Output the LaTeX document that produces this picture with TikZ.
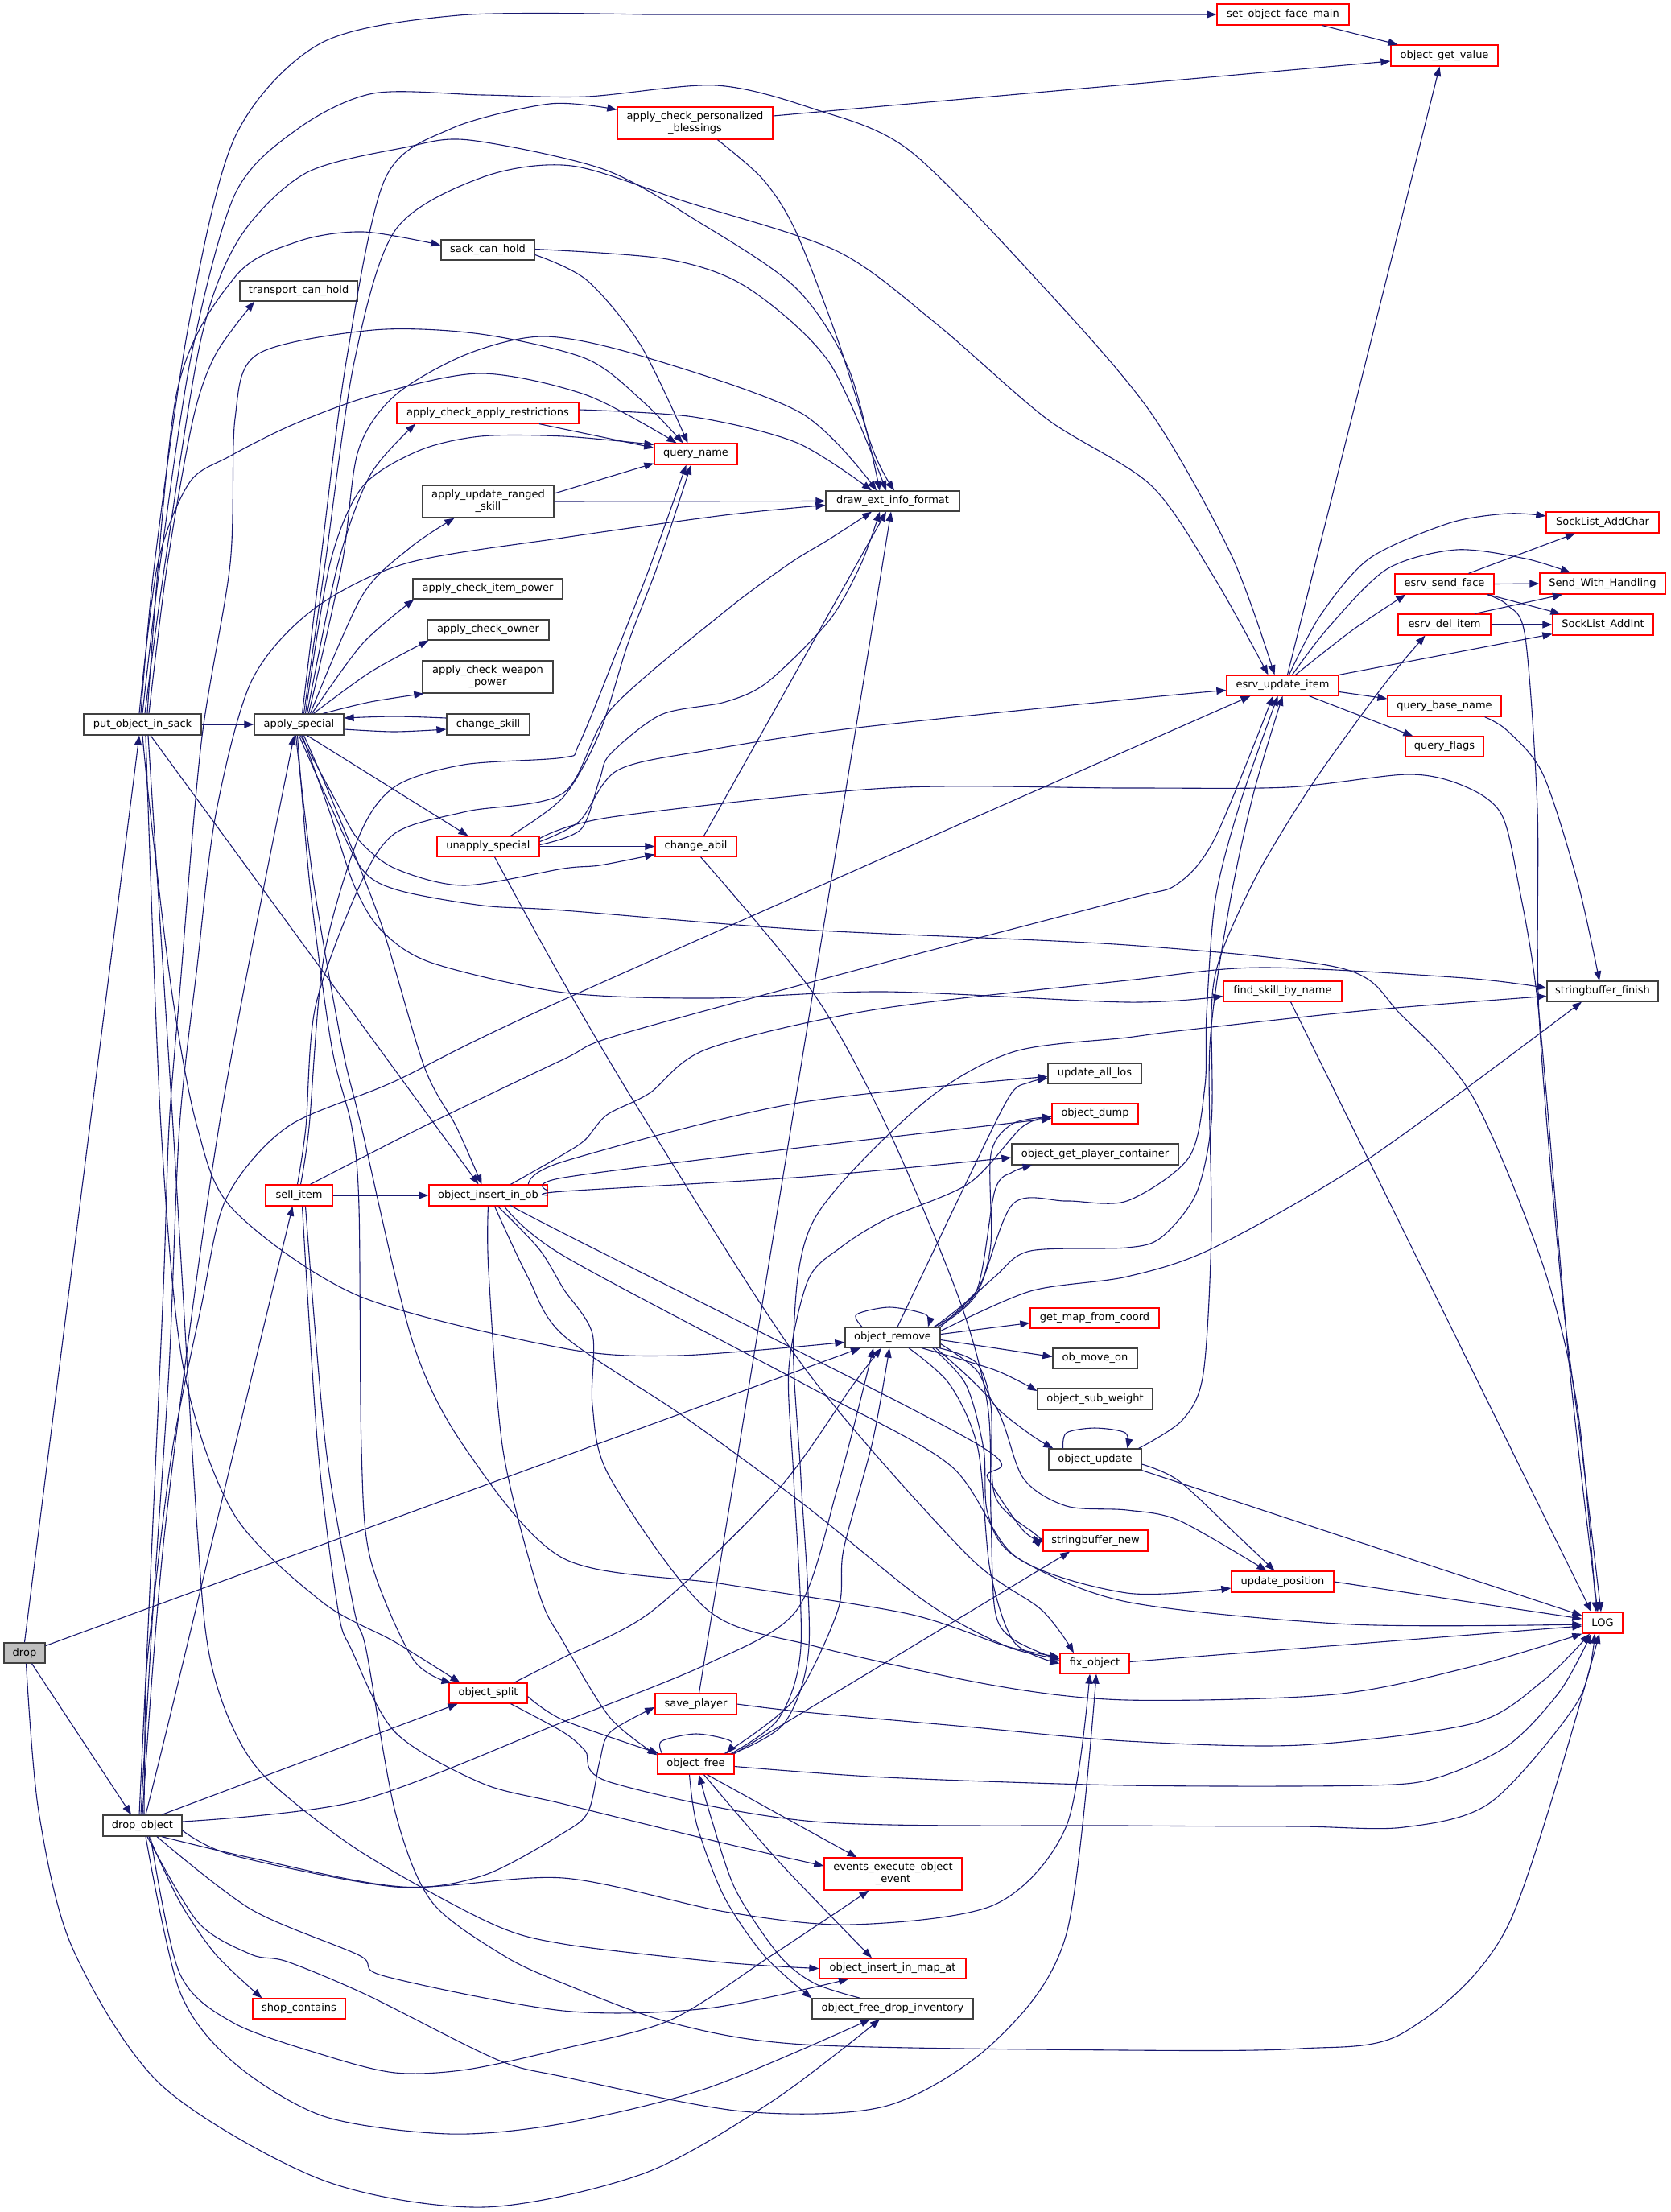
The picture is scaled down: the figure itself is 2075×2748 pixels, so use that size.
\documentclass[tikz,border=0pt]{standalone}
\usepackage{fontspec}
\setmainfont{DejaVu Sans}
\usetikzlibrary{arrows.meta}
\definecolor{edgec}{RGB}{25,25,112}
\definecolor{nodeb}{RGB}{64,64,64}
\definecolor{nodered}{RGB}{255,0,0}
\definecolor{rootfill}{RGB}{191,191,191}
\begin{document}
\begin{tikzpicture}[x=1pt,y=-1pt,
 fn/.style={draw=nodeb, fill=white, line width=1.3pt, inner sep=0pt, align=center, font=\fontsize{13}{15}\selectfont},
 rn/.style={fn, draw=nodered},
 e/.style={draw=edgec, line width=1.1pt, -{Triangle[length=12pt,width=9pt]}},
]
\useasboundingbox (0,0) rectangle (2075,2748);
\fill[white] (0,0) rectangle (2075,2748);

% nodes
\node[fn, fill=rootfill, minimum width=51pt, minimum height=25pt] (drop) at (30.5,2053.5) {drop};
\node[fn, minimum width=146pt, minimum height=26pt] (pois) at (177,900) {put\_object\_in\_sack};
\node[fn, minimum width=111pt, minimum height=26pt] (aps) at (371.5,900) {apply\_special};
\node[fn, minimum width=103pt, minimum height=26pt] (chs) at (606.5,900) {change\_skill};
\node[fn, minimum width=146pt, minimum height=25pt] (tch) at (371,361.5) {transport\_can\_hold};
\node[fn, minimum width=116pt, minimum height=25pt] (sch) at (606,310.5) {sack\_can\_hold};
\node[rn, minimum width=193pt, minimum height=40pt] (acpb) at (863.5,153) {apply\_check\_personalized\\\_blessings};
\node[rn, minimum width=164pt, minimum height=26pt] (sofm) at (1594,18) {set\_object\_face\_main};
\node[rn, minimum width=133pt, minimum height=26pt] (ogv) at (1794.5,69) {object\_get\_value};
\node[rn, minimum width=226pt, minimum height=26pt] (acar) at (606,513) {apply\_check\_apply\_restrictions};
\node[rn, minimum width=103pt, minimum height=26pt] (qn) at (864.5,564) {query\_name};
\node[fn, minimum width=163pt, minimum height=40pt] (aurs) at (606.5,623) {apply\_update\_ranged\\\_skill};
\node[fn, minimum width=166pt, minimum height=25pt] (deif) at (1109,622.5) {draw\_ext\_info\_format};
\node[fn, minimum width=186pt, minimum height=25pt] (acip) at (606,731.5) {apply\_check\_item\_power};
\node[fn, minimum width=151pt, minimum height=25pt] (aco) at (606.5,782.5) {apply\_check\_owner};
\node[fn, minimum width=162pt, minimum height=40pt] (acwp) at (606,841) {apply\_check\_weapon\\\_power};
\node[rn, minimum width=127pt, minimum height=25pt] (uns) at (606.5,1051.5) {unapply\_special};
\node[rn, minimum width=101pt, minimum height=25pt] (cha) at (864.5,1051.5) {change\_abil};
\node[rn, minimum width=139pt, minimum height=25pt] (eui) at (1593.5,851.5) {esrv\_update\_item};
\node[rn, minimum width=123pt, minimum height=25pt] (esf) at (1794.5,725.5) {esrv\_send\_face};
\node[rn, minimum width=115pt, minimum height=26pt] (edi) at (1794.5,776) {esrv\_del\_item};
\node[rn, minimum width=141pt, minimum height=26pt] (qbn) at (1794.5,877) {query\_base\_name};
\node[rn, minimum width=97pt, minimum height=25pt] (qf) at (1794.5,927.5) {query\_flags};
\node[rn, minimum width=140pt, minimum height=26pt] (sac) at (1991,649) {SockList\_AddChar};
\node[rn, minimum width=156pt, minimum height=26pt] (swh) at (1991,725) {Send\_With\_Handling};
\node[rn, minimum width=125pt, minimum height=26pt] (sai) at (1991.5,776) {SockList\_AddInt};
\node[rn, minimum width=147pt, minimum height=25pt] (fsbn) at (1593.5,1231.5) {find\_skill\_by\_name};
\node[fn, minimum width=138pt, minimum height=25pt] (sbf) at (1991,1231.5) {stringbuffer\_finish};
\node[fn, minimum width=116pt, minimum height=25pt] (ual) at (1360,1333.5) {update\_all\_los};
\node[rn, minimum width=107pt, minimum height=25pt] (od) at (1360.5,1383.5) {object\_dump};
\node[fn, minimum width=207pt, minimum height=26pt] (ogpc) at (1360.5,1434) {object\_get\_player\_container};
\node[rn, minimum width=83pt, minimum height=26pt] (si) at (371.5,1485) {sell\_item};
\node[rn, minimum width=147pt, minimum height=26pt] (oiio) at (606.5,1485) {object\_insert\_in\_ob};
\node[fn, minimum width=118pt, minimum height=25pt] (orm) at (1109,1661.5) {object\_remove};
\node[rn, minimum width=160pt, minimum height=25pt] (gmfc) at (1360,1637.5) {get\_map\_from\_coord};
\node[fn, minimum width=105pt, minimum height=25pt] (omo) at (1360.5,1687.5) {ob\_move\_on};
\node[fn, minimum width=143pt, minimum height=26pt] (osw) at (1360.5,1738) {object\_sub\_weight};
\node[fn, minimum width=115pt, minimum height=26pt] (ou) at (1360.5,1813) {object\_update};
\node[rn, minimum width=130pt, minimum height=26pt] (sbn) at (1361,1914) {stringbuffer\_new};
\node[rn, minimum width=127pt, minimum height=26pt] (up) at (1593.5,1965) {update\_position};
\node[rn, minimum width=50pt, minimum height=26pt] (log) at (1991,2016) {LOG};
\node[rn, minimum width=86pt, minimum height=25pt] (fo) at (1360,2066.5) {fix\_object};
\node[rn, minimum width=97pt, minimum height=25pt] (osp) at (606.5,2103.5) {object\_split};
\node[rn, minimum width=101pt, minimum height=26pt] (sp) at (864.5,2117) {save\_player};
\node[rn, minimum width=95pt, minimum height=25pt] (ofr) at (864.5,2191.5) {object\_free};
\node[fn, minimum width=98pt, minimum height=26pt] (dob) at (177,2268) {drop\_object};
\node[rn, minimum width=171pt, minimum height=40pt] (eeoe) at (1109.5,2328) {events\_execute\_object\\\_event};
\node[rn, minimum width=182pt, minimum height=25pt] (oiima) at (1109,2445.5) {object\_insert\_in\_map\_at};
\node[fn, minimum width=200pt, minimum height=25pt] (ofdi) at (1109,2495.5) {object\_free\_drop\_inventory};
\node[rn, minimum width=115pt, minimum height=25pt] (shc) at (371.5,2495.5) {shop\_contains};

% drop
\draw[e] (drop.north) -- ([xshift=-4pt]pois.south);
\draw[e] ([yshift=9pt]drop.east) -- ([xshift=-40pt]orm.south);
\draw[e] ([xshift=9pt]drop.south) -- ([xshift=-14pt]dob.north);
\draw[e] plot[smooth] coordinates {([xshift=2pt]drop.south) (48,2250) (90,2420) (200,2590) (400,2708) (600,2742) (800,2700) (960,2610) ([xshift=-16pt]ofdi.south)};

% put_object_in_sack
\draw[e] (pois.east) -- (aps.west);
\draw[e] plot[smooth] coordinates {([xshift=-2pt]pois.north) (192,700) (235,400) (292,170) (398,54) (570,19) (800,18)} -- (sofm.west);
\draw[e] plot[smooth] coordinates {(pois.north) (199,700) (238,440) (292,241) (370,160) (464,116) (600,118) (729,120) (889,106) (1010,135) (1130,187) (1297,357) (1430,513) (1530,690) ([xshift=-10pt]eui.north)};
\draw[e] plot[smooth] coordinates {([xshift=3pt]pois.north) (205,700) (250,420) (298,295) (380,215) (504,183) (583,174) (749,210) (862,272) (988,357) (1055,460) ([xshift=-16pt]deif.north)};
\draw[e] plot[smooth] coordinates {([xshift=6pt]pois.north) (219,491) (292,344) (370,300) (451,288) ([yshift=6pt]sch.west)};
\draw[e] plot[smooth] coordinates {([xshift=8pt]pois.north) (208,700) (240,520) (268,440) ([xshift=-55pt]tch.south)};
\draw[e] plot[smooth] coordinates {([xshift=-4pt]pois.north) (196,700) (235,600) (285,567) (365,527) (464,491) (597,464) (729,491) ([xshift=-24pt]qn.north)};
\draw[e] ([xshift=10pt]pois.south) -- ([xshift=-12pt]oiio.north);
\draw[e] plot[smooth] coordinates {(pois.south) (187,1012) (214,1236) (245,1400) (290,1503) (446,1610) (700,1675) (843,1684) ([yshift=-6pt]orm.west)};
\draw[e] plot[smooth] coordinates {([xshift=4pt]pois.south) (200,1400) (228,1700) (290,1880) (400,1990) (491,2040) ([xshift=-35pt]osp.north)};
\draw[e] plot[smooth] coordinates {([xshift=7pt]pois.south) (215,1400) (245,1900) (259,2050) (286,2139) (330,2208) (446,2299) (607,2388) (700,2415) (900,2438) (oiima.west)};

% apply_special
\draw[e] plot[smooth] coordinates {([xshift=4pt]aps.north) (398,700) (430,450) (478,223) (560,160) (683,129) ([yshift=-4pt]acpb.north west)};
\draw[e] plot[smooth] coordinates {([xshift=6pt]aps.north) (404,700) (440,450) (491,286) (600,220) (710,206) (850,250) (1040,312) (1163,402) (1300,520) (1430,603) (1510,720) ([xshift=-18pt]eui.north)};
\draw[e] plot[smooth] coordinates {([xshift=10pt]aps.north) (420,700) (460,590) ([xshift=-90pt]acar.south)};
\draw[e] plot[smooth] coordinates {([xshift=8pt]aps.north) (410,700) (450,605) (520,560) (597,542) (700,542) ([yshift=-2pt]qn.north west)};
\draw[e] plot[smooth] coordinates {([xshift=12pt]aps.north) (425,700) (445,560) (491,491) (580,440) (676,418) (796,442) (995,513) ([xshift=-20pt]deif.north)};
\draw[e] plot[smooth] coordinates {([xshift=14pt]aps.north) (450,740) (510,680) ([xshift=-42pt]aurs.south)};
\draw[e] plot[smooth] coordinates {([xshift=16pt]aps.north) (450,800) ([xshift=2pt]acip.south west)};
\draw[e] plot[smooth] coordinates {([xshift=18pt]aps.north) (460,835) ([xshift=2pt]aco.south west)};
\draw[e] plot[smooth] coordinates {([xshift=30pt]aps.north) (460,872) ([xshift=2pt]acwp.south west)};
\draw[e] plot[smooth] coordinates {([yshift=8pt]chs.west) (490,890) ([yshift=8pt]aps.east)};
\draw[e] plot[smooth] coordinates {([yshift=-6pt]aps.east) (490,909) ([yshift=-6pt]chs.west)};
\draw[e] ([xshift=10pt]aps.south) -- ([xshift=-25pt]uns.north);
\draw[e] plot[smooth] coordinates {([xshift=2pt]aps.south) (420,1000) (446,1044) (491,1079) (576,1100) (700,1079) (745,1075) ([yshift=-10pt]cha.west)};
\draw[e] plot[smooth] coordinates {(aps.south) (410,1000) (450,1080) (495,1106) (600,1125) (700,1131) (1000,1155) (1400,1174) (1667,1203) (1740,1260) (1830,1363) (1917,1572) (1960,1751) ([xshift=-8pt]log.north)};
\draw[e] plot[smooth] coordinates {([xshift=4pt]aps.south) (410,1010) (440,1100) (473,1155) (536,1196) (700,1233) (880,1240) (1100,1232) (1400,1245) ([yshift=-6pt]fsbn.west)};
\draw[e] plot[smooth] coordinates {([xshift=6pt]aps.south) (415,1000) (473,1146) (527,1325) (567,1400) ([xshift=-8pt]oiio.north)};
\draw[e] plot[smooth] coordinates {([xshift=-2pt]aps.south) (385,1100) (412,1300) (437,1400) (446,1500) (449,1800) (460,1936) (513,2061) ([xshift=-46pt]osp.north)};
\draw[e] plot[smooth] coordinates {([xshift=-4pt]aps.south) (390,1100) (425,1300) (449,1400) (513,1668) (580,1802) (700,1936) (900,1968) (1129,2005) (1250,2045) ([yshift=8pt]fo.west)};

% drop_object
\draw[e] plot[smooth] coordinates {(dob.north) (205,1900) (272,1400) ([xshift=-6pt]aps.south)};
\draw[e] plot[smooth] coordinates {([xshift=4pt]dob.north) (219,2100) ([xshift=-8pt]si.south)};
\draw[e] plot[smooth] coordinates {([xshift=-2pt]dob.north) (190,2000) (210,1700) (223,1400) (245,1200) (268,1012) (312,847) (388,758) (504,700) (700,668) (900,640) ([yshift=-5pt]deif.west)};
\draw[e] plot[smooth] coordinates {([xshift=-4pt]dob.north) (185,2000) (203,1600) (210,1400) (223,1236) (250,923) (286,700) (292,520) (320,440) (464,410) (597,415) (729,446) (800,500) ([xshift=-16pt]qn.north)};
\draw[e] plot[smooth] coordinates {([xshift=2pt]dob.north) (181,2100) (187,2025) (214,1802) (250,1623) (281,1489) (357,1400) (491,1343) (700,1242) ([xshift=-40pt]eui.south)};
\draw[e] ([xshift=24pt]dob.north) -- ([xshift=-38pt]osp.south);
\draw[e] plot[smooth] coordinates {([yshift=5pt]dob.east) (446,2237) (700,2139) (879,2067) (990,2000) (1040,1850) ([xshift=-24pt]orm.south)};
\draw[e] plot[smooth] coordinates {([yshift=-6pt]dob.east) (290,2305) (491,2344) (600,2330) (700,2277) (731,2250) (745,2188) (758,2152) ([yshift=-4pt]sp.west)};
\draw[e] plot[smooth] coordinates {([xshift=24pt]dob.south) (312,2308) (500,2344) (700,2333) (901,2375) (1057,2391) (1236,2366) (1325,2268) ([xshift=-6pt]fo.south)};
\draw[e] plot[smooth] coordinates {([xshift=6pt]dob.south) (246,2388) (312,2428) (357,2437) (455,2478) (616,2558) (700,2580) (923,2623) (1102,2616) (1236,2536) (1325,2402) ([xshift=2pt]fo.south)};
\draw[e] plot[smooth] coordinates {([xshift=18pt]dob.south) (312,2372) (446,2429) (478,2455) (700,2498) (879,2495) ([xshift=-55pt]oiima.south)};
\draw[e] plot[smooth] coordinates {([xshift=10pt]dob.south) (223,2451) (290,2513) (402,2553) (491,2575) (580,2571) (700,2545) (834,2509) (959,2429) ([xshift=-30pt]eeoe.south)};
\draw[e] plot[smooth] coordinates {([xshift=8pt]dob.south) (223,2362) (268,2428) ([xshift=-46pt]shc.north)};
\draw[e] plot[smooth] coordinates {([xshift=4pt]dob.south) (223,2473) (290,2562) (402,2629) (558,2651) (700,2638) (879,2594) ([xshift=-28pt]ofdi.south)};

% sell_item
\draw[e] (si.east) -- (oiio.west);
\draw[e] plot[smooth] coordinates {([xshift=2pt]si.north) (384,1400) (402,1191) (446,1039) (491,977) (576,950) (700,941) (720,923) (770,800) (809,700) ([xshift=-12pt]qn.south)};
\draw[e] plot[smooth] coordinates {([xshift=-2pt]si.north) (380,1400) (392,1250) (446,1102) (491,1035) (580,1008) (700,985) (760,880) (900,760) (981,700) (1030,670) ([xshift=-26pt]deif.south)};
\draw[e] plot[smooth] coordinates {([xshift=14pt]si.north) (525,1400) (700,1316) (771,1285) (1102,1195) (1400,1117) (1463,1098) (1510,1040) ([xshift=-12pt]eui.south)};
\draw[e] plot[smooth] coordinates {([xshift=4pt]si.south) (395,1800) (420,2000) (437,2050) (491,2152) (598,2215) (700,2241) (900,2290) ([yshift=10pt]eeoe.west)};
\draw[e] plot[smooth] coordinates {([xshift=8pt]si.south) (405,1800) (440,2000) (455,2050) (491,2251) (536,2362) (625,2429) (700,2464) (834,2513) (1000,2540) (1400,2547) (1615,2545) (1744,2525) (1874,2391) ([xshift=-4pt]log.south)};

% unapply_special
\draw[e] plot[smooth] coordinates {([xshift=28pt]uns.north) (700,990) (745,910) (780,800) (818,700) ([xshift=-6pt]qn.south)};
\draw[e] plot[smooth] coordinates {([yshift=2pt]uns.east) (722,1030) (745,968) (758,937) (821,888) (901,872) (954,847) (1030,771) (1070,700) ([xshift=-16pt]deif.south)};
\draw[e] plot[smooth] coordinates {([yshift=6pt]uns.east) (720,1020) (767,957) (879,932) (1057,905) (1400,869) ([yshift=-6pt]eui.west)};
\draw[e] (uns.east) -- (cha.west);
\draw[e] plot[smooth] coordinates {([yshift=10pt]uns.east) (760,1015) (1102,979) (1400,979) (1600,978) (1750,962) (1820,977) (1865,1011) (1886,1096) (1912,1260) (1950,1700) ([xshift=-6pt]log.north)};
\draw[e] plot[smooth] coordinates {([xshift=8pt]uns.south) (700,1220) (807,1400) (1000,1700) (1200,1930) (1294,2000) ([xshift=-26pt]fo.north)};

% change_abil
\draw[e] ([xshift=10pt]cha.north) -- ([xshift=-8pt]deif.south);
\draw[e] plot[smooth] coordinates {([xshift=6pt]cha.south) (1012,1236) (1102,1400) (1191,1612) (1227,1746) (1231,1880) (1236,2000) (1258,2036) ([yshift=4pt]fo.west)};

% save_player
\draw[e] ([xshift=4pt]sp.north) -- ([xshift=-2pt]deif.south);
\draw[e] plot[smooth] coordinates {(sp.east) (1000,2127) (1200,2145) (1400,2163) (1615,2168) (1830,2141) (1917,2088) ([xshift=-16pt]log.south)};

% object_split
\draw[e] plot[smooth] coordinates {([xshift=32pt]osp.north) (700,2059) (812,2000) (968,1849) (1060,1720) ([xshift=-14pt]orm.south)};
\draw[e] plot[smooth] coordinates {([yshift=-4pt]osp.east) (700,2137) ([xshift=2pt]ofr.north west)};
\draw[e] plot[smooth] coordinates {([xshift=28pt]osp.south) (700,2152) (727,2175) (758,2214) (1012,2263) (1400,2268) (1615,2269) (1744,2270) (1852,2239) (1960,2114) ([xshift=-10pt]log.south)};

% object_free
\draw[e] plot[smooth] coordinates {([xshift=-42pt]ofr.north) (822,2163) (865,2154) (908,2163) ([xshift=38pt]ofr.north)};
\draw[e] plot[smooth] coordinates {([xshift=36pt]ofr.north) (986,2112) (1041,2000) (1048,1925) (1084,1791) ([xshift=-4pt]orm.south)};
\draw[e] plot[smooth] coordinates {([xshift=44pt]ofr.north) (968,2134) (995,2045) (986,1836) (980,1700) (1004,1590) (1044,1550) (1102,1514) (1204,1470) (1270,1400) ([yshift=-4pt]od.west)};
\draw[e] plot[smooth] coordinates {([xshift=46pt]ofr.north) (975,2140) (1005,2045) (995,1836) (986,1657) (1012,1514) (1146,1371) (1258,1307) (1400,1289) (1470,1280) (1700,1255) ([yshift=-6pt]sbf.west)};
\draw[e] (ofr.north east) -- ([xshift=-32pt]sbn.south);
\draw[e] plot[smooth] coordinates {([yshift=-3pt]ofr.east) (1100,2208) (1400,2218) (1701,2218) (1787,2208) (1874,2168) (1938,2101) ([xshift=-14pt]log.south)};
\draw[e] ([xshift=14pt]ofr.south) -- ([xshift=-45pt]eeoe.north);
\draw[e] plot[smooth] coordinates {([xshift=10pt]ofr.south) (968,2313) ([xshift=-26pt]oiima.north)};
\draw[e] plot[smooth] coordinates {([xshift=-8pt]ofr.south) (866,2268) (900,2357) (950,2430) (ofdi.north west)};
\draw[e] plot[smooth] coordinates {([xshift=-40pt]ofdi.north) (1012,2464) (968,2429) (914,2348) (884,2260) ([xshift=4pt]ofr.south)};

% object_insert_in_ob
\draw[e] plot[smooth] coordinates {([xshift=50pt]oiio.north) (700,1443) (986,1371) ([yshift=-4pt]ual.west)};
\draw[e] plot[smooth] coordinates {([yshift=6pt]oiio.east) (700,1463) (1000,1425) ([yshift=-6pt]od.west)};
\draw[e] plot[smooth] coordinates {(oiio.east) (700,1480) (1000,1462) ([yshift=-4pt]ogpc.west)};
\draw[e] plot[smooth] coordinates {([xshift=28pt]oiio.north) (700,1434) (727,1416) (754,1385) (807,1358) (879,1303) (1088,1254) (1400,1218) (1567,1202) (1820,1215) ([yshift=4pt]sbf.west)};
\draw[e] plot[smooth] coordinates {(oiio.south) (607,1579) (625,1802) (670,1980) (700,2040) (758,2134) ([yshift=-2pt]ofr.north west)};
\draw[e] plot[smooth] coordinates {([xshift=12pt]oiio.south) (670,1552) (700,1601) (736,1657) (736,1746) (758,1836) (879,2000) (1012,2045) (1236,2094) (1400,2112) (1658,2105) (1830,2070) (log.south west)};
\draw[e] plot[smooth] coordinates {([xshift=8pt]oiio.south) (656,1587) (700,1659) (850,1760) (1000,1870) (1150,1990) (1250,2045) ([yshift=6pt]fo.west)};
\draw[e] plot[smooth] coordinates {([xshift=30pt]oiio.south) (700,1532) (1209,1791) (1227,1836) (1270,1900) ([yshift=-2pt]sbn.west)};
\draw[e] plot[smooth] coordinates {([xshift=20pt]oiio.south) (700,1560) (1000,1720) (1180,1820) (1262,1934) (1400,1979) ([yshift=-8pt]up.west)};

% object_remove
\draw[e] plot[smooth] coordinates {([xshift=-38pt]orm.north) (1064,1633) (1105,1624) (1150,1633) ([xshift=44pt]orm.north)};
\draw[e] plot[smooth] coordinates {([xshift=6pt]orm.north) (1200,1470) (1254,1362) (1278,1345) ([yshift=-6pt]ual.west)};
\draw[e] plot[smooth] coordinates {([xshift=-8pt]orm.north east) (1213,1604) (1231,1545) (1231,1434) (1258,1396) ([yshift=-4pt]od.west)};
\draw[e] plot[smooth] coordinates {([xshift=-8pt]orm.north east) (1213,1604) (1236,1479) (1258,1456) ([xshift=-78pt]ogpc.south)};
\draw[e] plot[smooth] coordinates {([xshift=-4pt]orm.north east) (1213,1608) (1258,1496) (1325,1492) (1400,1492) (1477,1438) (1497,1349) (1499,1260) (1510,1117) (1540,1000) ([xshift=-6pt]eui.south)};
\draw[e] plot[smooth] coordinates {(orm.north east) (1236,1586) (1280,1554) (1400,1550) (1443,1537) (1486,1483) (1505,1394) (1505,1260) (1510,1210) (1527,1160) (1567,1077) (1633,970) (1720,850) ([xshift=-24pt]edi.south)};
\draw[e] plot[smooth] coordinates {([yshift=8pt]orm.east) (1280,1604) (1400,1586) (1508,1550) (1701,1439) ([xshift=-26pt]sbf.south)};
\draw[e] ([yshift=4pt]orm.east) -- ([yshift=-6pt]gmfc.west);
\draw[e] ([yshift=-3pt]orm.east) -- ([yshift=2pt]omo.west);
\draw[e] plot[smooth] coordinates {([xshift=36pt]orm.south) (1236,1702) ([yshift=10pt]osw.west)};
\draw[e] plot[smooth] coordinates {([yshift=-8pt]orm.east) (1213,1702) (1236,1746) (1280,1782) ([xshift=6pt]ou.north west)};
\draw[e] plot[smooth] coordinates {([xshift=-2pt]orm.south east) (1213,1693) (1231,1746) (1236,1858) (1285,1905) ([yshift=4pt]sbn.west)};
\draw[e] plot[smooth] coordinates {([xshift=-6pt]orm.south east) (1236,1746) (1271,1836) (1325,1871) (1400,1876) (1465,1889) ([xshift=-20pt]up.north)};
\draw[e] plot[smooth] coordinates {([xshift=-10pt]orm.south east) (1200,1720) (1222,1800) (1227,1880) (1262,1934) (1400,1990) (1680,2018) ([yshift=-2pt]log.west)};
\draw[e] plot[smooth] coordinates {([xshift=20pt]orm.south) (1180,1720) (1215,1800) (1230,1950) (1260,2040) (fo.west)};

% object_update
\draw[e] plot[smooth] coordinates {([xshift=-40pt]ou.north) (1325,1780) (1360,1774) (1398,1780) ([xshift=40pt]ou.north)};
\draw[e] plot[smooth] coordinates {([xshift=-4pt]ou.north east) (1469,1764) (1495,1706) (1505,1528) (1503,1300) (1527,1127) (1557,987) (eui.south)};
\draw[e] plot[smooth] coordinates {([yshift=-6pt]ou.east) (1465,1840) (1540,1910) ([xshift=-10pt]up.north)};
\draw[e] (ou.south east) -- ([yshift=9pt]log.west);

% misc right side
\draw[e] (up.east) -- ([yshift=5pt]log.west);
\draw[e] ([yshift=2pt]fo.east) -- ([yshift=-4pt]log.west);
\draw[e] ([xshift=10pt]fsbn.south) -- ([xshift=-14pt]log.north);
\draw[e] plot[smooth] coordinates {([xshift=53pt]esf.south) (1873,752) (1895,792) (1910,1006) (1912,1260) (1940,1600) (1965,1800) ([xshift=-2pt]log.north)};
\draw[e] plot[smooth] coordinates {([xshift=50pt]qbn.south) (1873,908) (1917,962) (1960,1096) ([xshift=-4pt]sbf.north)};
\draw[e] ([xshift=49pt]sofm.south) -- ([xshift=-58pt]ogv.north);
\draw[e] ([yshift=9pt]acpb.east) -- ([yshift=-7pt]ogv.west);
\draw[e] ([xshift=6pt]eui.north) -- ([xshift=-6pt]ogv.south);
\draw[e] plot[smooth] coordinates {([xshift=28pt]acpb.south) (948,223) (988,286) (1040,420) (1085,560) ([xshift=2pt]deif.north)};
\draw[e] plot[smooth] coordinates {([yshift=-6pt]sch.east) (729,348) (796,429) ([xshift=-10pt]qn.north)};
\draw[e] plot[smooth] coordinates {([yshift=1pt]sch.east) (829,322) (928,357) (1030,450) ([xshift=-8pt]deif.north)};
\draw[e] ([xshift=64pt]acar.south) -- ([yshift=-6pt]qn.north west);
\draw[e] plot[smooth] coordinates {([yshift=4pt]acar.east) (862,518) (990,550) ([xshift=-26pt]deif.north)};
\draw[e] ([yshift=10pt]aurs.east) -- ([yshift=2pt]qn.south west);
\draw[e] (aurs.east) -- (deif.west);
\draw[e] plot[smooth] coordinates {([xshift=8pt]eui.north) (1640,765) (1701,694) (1800,650) (1873,638) ([yshift=8pt]sac.west)};
\draw[e] plot[smooth] coordinates {([xshift=12pt]eui.north) (1650,780) (1723,707) (1809,683) (1895,694) ([xshift=-40pt]swh.north)};
\draw[e] plot[smooth] coordinates {([xshift=16pt]eui.north) (1680,783) ([xshift=14pt]esf.south west)};
\draw[e] (eui.north east) -- ([yshift=2pt]sai.south west);
\draw[e] ([yshift=-8pt]eui.east) -- ([yshift=9pt]qbn.west);
\draw[e] ([xshift=33pt]eui.south) -- ([xshift=10pt]qf.north west);
\draw[e] ([xshift=30pt]esf.north) -- ([xshift=-34pt]sac.south);
\draw[e] (esf.east) -- (swh.west);
\draw[e] ([xshift=-8pt]esf.south east) -- ([xshift=10pt]sai.north west);
\draw[e] ([xshift=38pt]edi.north) -- ([xshift=-50pt]swh.south);
\draw[e] (edi.east) -- (sai.west);
\end{tikzpicture}
\end{document}
